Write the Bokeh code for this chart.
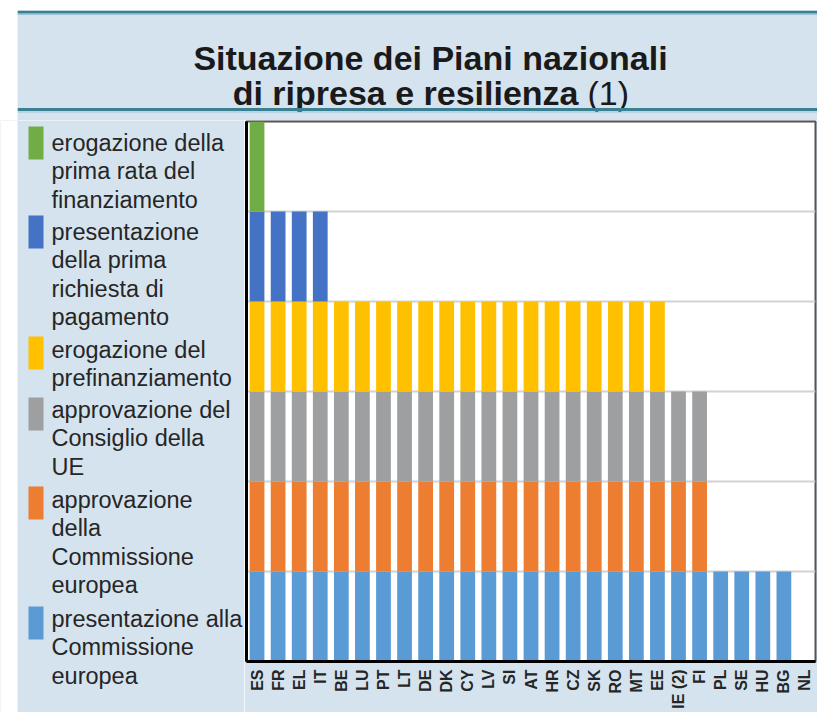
import math
from bokeh.plotting import figure
from bokeh.layouts import column, row
from bokeh.models import ColumnDataSource, Range1d, FactorRange, FixedTicker, Span, Plot
from bokeh.core.properties import value
from bokeh.embed import file_html
from bokeh.resources import INLINE

# ---------------- data ----------------
countries = ["ES", "FR", "EL", "IT", "BE", "LU", "PT", "LT", "DE", "DK", "CY", "LV",
             "SI", "AT", "HR", "CZ", "SK", "RO", "MT", "EE", "IE (2)", "FI", "PL",
             "SE", "HU", "BG", "NL"]

# stages, bottom to top (1 = stage reached)
presentazione_commissione = [1, 1, 1, 1, 1, 1, 1, 1, 1, 1, 1, 1, 1, 1, 1, 1, 1, 1, 1, 1, 1, 1, 1, 1, 1, 1, 0]
approvazione_commissione  = [1, 1, 1, 1, 1, 1, 1, 1, 1, 1, 1, 1, 1, 1, 1, 1, 1, 1, 1, 1, 1, 1, 0, 0, 0, 0, 0]
approvazione_consiglio    = [1, 1, 1, 1, 1, 1, 1, 1, 1, 1, 1, 1, 1, 1, 1, 1, 1, 1, 1, 1, 1, 1, 0, 0, 0, 0, 0]
erogazione_prefinanziamento = [1, 1, 1, 1, 1, 1, 1, 1, 1, 1, 1, 1, 1, 1, 1, 1, 1, 1, 1, 1, 0, 0, 0, 0, 0, 0, 0]
presentazione_richiesta   = [1, 1, 1, 1, 0, 0, 0, 0, 0, 0, 0, 0, 0, 0, 0, 0, 0, 0, 0, 0, 0, 0, 0, 0, 0, 0, 0]
erogazione_prima_rata     = [1, 0, 0, 0, 0, 0, 0, 0, 0, 0, 0, 0, 0, 0, 0, 0, 0, 0, 0, 0, 0, 0, 0, 0, 0, 0, 0]

stage_keys = ["presentazione_commissione", "approvazione_commissione", "approvazione_consiglio",
              "erogazione_prefinanziamento", "presentazione_richiesta", "erogazione_prima_rata"]
stage_colors = ["#5B9BD5", "#ED7D31", "#9E9FA1", "#FFC000", "#4472C4", "#70AD47"]

# legend texts, top to bottom (one list of lines per entry)
legend_lines = [
    ["erogazione della", "prima rata del", "finanziamento"],
    ["presentazione", "della prima", "richiesta di", "pagamento"],
    ["erogazione del", "prefinanziamento"],
    ["approvazione del", "Consiglio della", "UE"],
    ["approvazione", "della", "Commissione", "europea"],
    ["presentazione alla", "Commissione", "europea"],
]
legend_colors = ["#70AD47", "#4472C4", "#FFC000", "#9E9FA1", "#ED7D31", "#5B9BD5"]

title_line1 = "Situazione dei Piani nazionali"
title_line2 = "di ripresa e resilienza"
title_note = "(1)"

# ---------------- styles / layout ----------------
FONT = "Liberation Sans"
BG = "#d5e3ee"
TEAL = "#3a7f92"
TEXT = "#262626"

TOTAL_W = 817
TOTAL_H = 712
HEADER_H = 120
LEGEND_W = 244
STRIP_W = 17

# layout positions (pixel coordinates of the picture)
legend_box_tops = [126, 215, 336, 397, 486, 606]
legend_first_baselines = [142, 231, 349, 409, 499, 618]
LINE_STEP = 28.5

common = dict(output_backend="svg", toolbar_location=None)
can_unalign = "frame_align" in Plot.properties()


def unalign(fig):
    if can_unalign:
        fig.frame_align = False


# ---------- header ----------
header = figure(width=TOTAL_W, height=HEADER_H, x_range=Range1d(STRIP_W, TOTAL_W), y_range=Range1d(HEADER_H, 10),
                x_axis_type=None, y_axis_type=None, min_border_left=STRIP_W, min_border_right=0,
                min_border_top=10, min_border_bottom=0, background_fill_color=BG,
                border_fill_color="white", outline_line_color=None, **common)
unalign(header)
header.add_layout(Span(location=11.5, dimension="width", line_color=TEAL, line_width=3))
header.add_layout(Span(location=14, dimension="width", line_color="#9cc3d3", line_width=1))
header.add_layout(Span(location=109, dimension="width", line_color=TEAL, line_width=3))
header.add_layout(Span(location=111.5, dimension="width", line_color="#9cc3d3", line_width=1))
header.text(x=[430], y=[57], text=[title_line1], text_font=value(FONT), text_font_style="bold",
            text_font_size="34px", text_align="center", text_baseline="alphabetic", text_color="#1a1a1a")
header.text(x=[578], y=[92], text=[title_line2], text_font=value(FONT), text_font_style="bold",
            text_font_size="34px", text_align="right", text_baseline="alphabetic", text_color="#1a1a1a")
header.text(x=[587], y=[92], text=[title_note], text_font=value(FONT), text_font_style="normal",
            text_font_size="34px", text_align="left", text_baseline="alphabetic", text_color="#1a1a1a")

# ---------- legend panel ----------
body_h = TOTAL_H - HEADER_H
leg = figure(width=LEGEND_W, height=body_h, x_range=Range1d(0, LEGEND_W), y_range=Range1d(TOTAL_H, HEADER_H),
             x_axis_type=None, y_axis_type=None, min_border_left=0, min_border_right=0,
             min_border_top=0, min_border_bottom=0, background_fill_color=BG,
             border_fill_color=BG, outline_line_color=None, **common)
unalign(leg)
# white strip at the far left of the panel
leg.quad(left=[0], right=[STRIP_W], top=[HEADER_H], bottom=[TOTAL_H], fill_color="white", line_color=None)
box_h = 33
leg.quad(left=[28] * len(legend_colors), right=[43] * len(legend_colors),
         top=legend_box_tops, bottom=[t + box_h for t in legend_box_tops],
         fill_color=legend_colors, line_color=None)
lx, ly, lt = [], [], []
for lines, b0 in zip(legend_lines, legend_first_baselines):
    for k, s in enumerate(lines):
        lx.append(51)
        ly.append(b0 + k * LINE_STEP)
        lt.append(s)
leg.text(x=lx, y=ly, text=lt, text_font=value(FONT), text_font_size="23.5px",
         text_align="left", text_baseline="alphabetic", text_color=TEXT)

# ---------- chart ----------
data = dict(country=countries,
            presentazione_commissione=presentazione_commissione,
            approvazione_commissione=approvazione_commissione,
            approvazione_consiglio=approvazione_consiglio,
            erogazione_prefinanziamento=erogazione_prefinanziamento,
            presentazione_richiesta=presentazione_richiesta,
            erogazione_prima_rata=erogazione_prima_rata)
source = ColumnDataSource(data)

p = figure(width=TOTAL_W - LEGEND_W, height=body_h, x_range=FactorRange(factors=countries), y_range=Range1d(0, 6),
           min_border_left=2, min_border_right=2, min_border_top=1, min_border_bottom=51,
           background_fill_color="white", border_fill_color=BG,
           outline_line_color="#555555", outline_line_width=2, **common)
unalign(p)
p.vbar_stack(stage_keys, x="country", width=0.7, color=stage_colors, line_color=None, source=source)

p.xgrid.visible = False
p.ygrid.ticker = FixedTicker(ticks=[1, 2, 3, 4, 5])
p.ygrid.grid_line_color = "#d2d2d2"
p.ygrid.grid_line_width = 2

p.yaxis.ticker = FixedTicker(ticks=[])
p.yaxis.axis_line_color = "black"
p.yaxis.axis_line_width = 3
p.yaxis.major_tick_line_color = None
p.yaxis.minor_tick_line_color = None
p.yaxis.major_label_text_font_size = "0px"
p.yaxis.major_label_standoff = 0

p.xaxis.axis_line_color = "black"
p.xaxis.axis_line_width = 3
p.xaxis.major_tick_line_color = None
p.xaxis.minor_tick_line_color = None
p.xaxis.major_label_orientation = math.pi / 2
p.xaxis.major_label_text_font = FONT
p.xaxis.major_label_text_font_size = "16px"
p.xaxis.major_label_text_font_style = "bold"
p.xaxis.major_label_text_color = TEXT
p.xaxis.major_label_standoff = 2

layout = column(header, row(leg, p, spacing=0), spacing=0)

open("out.html", "w").write(file_html(layout, INLINE))
